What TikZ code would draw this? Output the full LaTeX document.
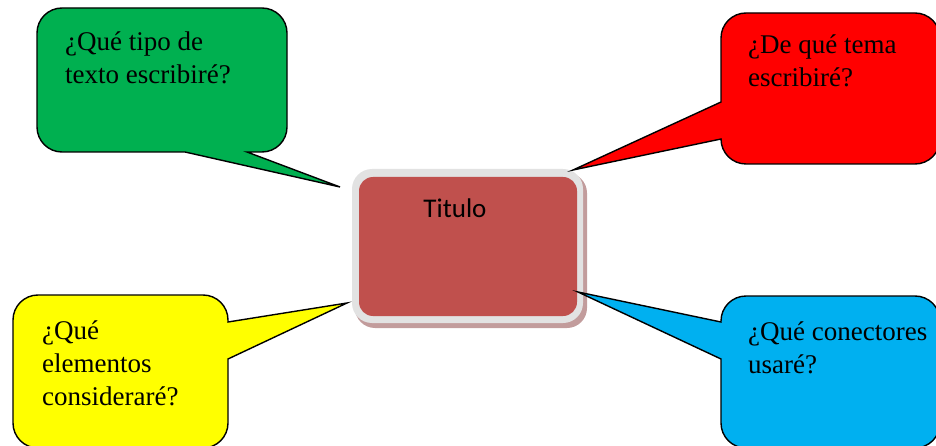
\documentclass[tikz,border=0pt]{standalone}
\usepackage{fontspec}
\setmainfont{Liberation Serif}
\newfontfamily\calibri{Carlito}
\usepackage{tikz}
\usetikzlibrary{calc,positioning}
\usepackage{color}
\definecolor{qgreen}{HTML}{00B050}
\definecolor{qred}{HTML}{FF0000}
\definecolor{qyellow}{HTML}{FFFF00}
\definecolor{qblue}{HTML}{00B0F0}
\definecolor{tbrick}{HTML}{C0504D}
\definecolor{tframe}{HTML}{E2E2E2}
\definecolor{tshadow}{HTML}{C29C9C}
\tikzstyle{bubble} = [draw=black, line width=1.4pt, line join=miter]
\tikzstyle{qtext} = [anchor=base west, align=left, inner sep=0pt, font=\fontsize{27}{33}\selectfont]

\begin{document}
\begin{tikzpicture}[x=1pt, y=-1pt]
            \useasboundingbox (0,0) rectangle (936,446);

            % Titulo box
            \fill[tshadow, rounded corners=20pt] (355,173) rectangle (587,328);
            \fill[tframe, rounded corners=20pt] (352,169) rectangle (583,323);
            \node[fill=tbrick, rounded corners=14pt, minimum width=218pt, minimum height=139pt] at (468,246.5) (titbox) {};
            \node[anchor=base, font=\calibri\fontsize{27}{33}\selectfont] at (455,218) (titulo) {Titulo};

            % pointer tips
            \coordinate (gtip) at (340,187);
            \coordinate (rtip) at (573,170);
            \coordinate (ytip) at (347,303);
            \coordinate (btip) at (578,292);

            \path
                [bubble, fill=qgreen]
                (37,80) [rounded corners=25pt] -- (37,8) -- (287,8) -- (287,152)
                [sharp corners] -- (247,152) -- (gtip) -- (185,152) [rounded corners=25pt] -- (37,152) [sharp corners] -- cycle;
            \path
                [bubble, fill=qred]
                (830,13) [rounded corners=25pt] -- (940,13) -- (940,164) -- (721,164)
                [sharp corners] -- (721,139) -- (rtip) -- (721,102) [rounded corners=25pt] -- (721,13) [sharp corners] -- cycle;
            \path
                [bubble, fill=qyellow]
                (120,448) [rounded corners=25pt] -- (13,448) -- (13,295) -- (228,295)
                [sharp corners] -- (228,322) -- (ytip) -- (228,359) [rounded corners=25pt] -- (228,448) [sharp corners] -- cycle;
            \path
                [bubble, fill=qblue]
                (830,448) [rounded corners=25pt] -- (721,448)
                [sharp corners] -- (721,359) -- (btip) -- (721,322) [rounded corners=25pt] -- (721,296) -- (940,296) -- (940,448) [sharp corners] -- cycle;

            % last baseline of each text
            \node[qtext] at (65,84) (qtipo) {¿Qué tipo de\\texto escribiré?};
            \node[qtext] at (748,87) (qtema) {¿De qué tema\\escribiré?};
            \node[qtext] at (42,405) (qelem) {¿Qué\\elementos\\consideraré?};
            \node[qtext] at (748,373) (qconec) {¿Qué conectores\\usaré?};

        \end{tikzpicture}
\end{document}
